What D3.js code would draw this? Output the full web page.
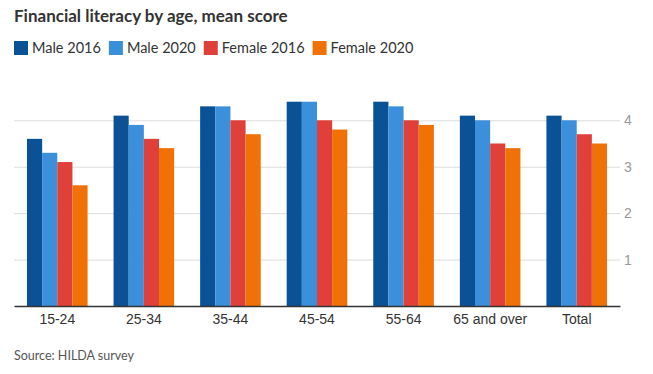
<!DOCTYPE html>
<html lang="en">
<head>
    <meta charset="UTF-8">
    <title>Financial literacy by age</title>
    <script src="https://d3js.org/d3.v7.min.js"></script>
    <style>
        body {
            margin: 0;
            background: #fff;
            font-family: Lato, "Noto Sans", sans-serif;
        }
        .grid line { stroke: #dcdcdc; stroke-width: 1; }
        .grid path { display: none; }
        .x-axis path { stroke: #333; stroke-width: 1.5; }
        .x-axis line { display: none; }
        .x-axis text { fill: #333; font-size: 14px; }
        .y-axis text { fill: #999; font-size: 14px; }
        .y-axis path, .y-axis line { display: none; }
    </style>
</head>
<body>
    <div id="chart"></div>

    <script>
        // values
        const ageGroups = ["15-24", "25-34", "35-44", "45-54", "55-64", "65 and over", "Total"];
        const seriesNames = ["Male 2016", "Male 2020", "Female 2016", "Female 2020"];
        const male2016 = [3.6, 4.1, 4.3, 4.4, 4.4, 4.1, 4.1];
        const male2020 = [3.3, 3.9, 4.3, 4.4, 4.3, 4.0, 4.0];
        const female2016 = [3.1, 3.6, 4.0, 4.0, 4.0, 3.5, 3.7];
        const female2020 = [2.6, 3.4, 3.7, 3.8, 3.9, 3.4, 3.5];
        const yTicks = [1, 2, 3, 4];
        const colors = ["#0a5196", "#3b8fdb", "#e0403a", "#f07105"];

        const seriesValues = [male2016, male2020, female2016, female2020];
        const data = ageGroups.map((g, i) => ({
            group: g,
            values: seriesNames.map((s, j) => ({ key: s, value: seriesValues[j][i] }))
        }));

        const W = 653, H = 374;
        const margin = { top: 98, right: 33, bottom: 68, left: 14 };
        const width = W - margin.left - margin.right;
        const height = H - margin.top - margin.bottom;

        const root = d3.select("#chart").append("svg")
            .attr("width", W)
            .attr("height", H);

        // title
        root.append("text")
            .attr("x", 14)
            .attr("y", 22)
            .attr("font-size", 17)
            .attr("font-weight", 700)
            .attr("fill", "#333")
            .text("Financial literacy by age, mean score");

        // legend
        const legend = root.append("g").attr("transform", "translate(14,41)");
        let lx = 0;
        seriesNames.forEach((s, i) => {
            const item = legend.append("g").attr("transform", `translate(${lx},0)`);
            item.append("rect").attr("width", 14).attr("height", 14).attr("fill", colors[i]);
            const t = item.append("text")
                .attr("x", 18)
                .attr("y", 12)
                .attr("font-size", 14.5)
                .attr("fill", "#333")
                .text(s);
            lx += 18 + t.node().getComputedTextLength() + 8;
        });

        const svg = root.append("g")
            .attr("transform", `translate(${margin.left},${margin.top})`);

        const x0 = d3.scaleBand()
            .domain(ageGroups)
            .range([0, width])
            .paddingInner(0.3)
            .paddingOuter(0.15);

        const x1 = d3.scaleBand()
            .domain(seriesNames)
            .range([0, x0.bandwidth()]);

        const y = d3.scaleLinear()
            .domain([0, 4.48])
            .range([height, 0]);

        // gridlines
        svg.append("g")
            .attr("class", "grid")
            .call(d3.axisLeft(y).tickValues(yTicks).tickSize(-width).tickFormat(""));

        // bars
        svg.selectAll(".group")
            .data(data)
            .enter()
            .append("g")
            .attr("class", "group")
            .attr("transform", d => `translate(${x0(d.group)},0)`)
            .selectAll("rect")
            .data(d => d.values)
            .enter()
            .append("rect")
            .attr("x", d => x1(d.key))
            .attr("width", x1.bandwidth())
            .attr("y", d => y(d.value))
            .attr("height", d => height - y(d.value))
            .attr("fill", (d, i) => colors[i]);

        // x axis
        svg.append("g")
            .attr("class", "x-axis")
            .attr("transform", `translate(0,${height})`)
            .call(d3.axisBottom(x0).tickSize(0).tickSizeOuter(0).tickPadding(8));

        // y axis labels on the right
        svg.append("g")
            .attr("class", "y-axis")
            .attr("transform", `translate(${width},0)`)
            .call(d3.axisRight(y).tickValues(yTicks).tickSize(0).tickPadding(4).tickFormat(d3.format("d")))
            .selectAll("text")
            .attr("dy", "0.32em");

        // source
        root.append("text")
            .attr("x", 14)
            .attr("y", 360)
            .attr("font-size", 12.5)
            .attr("fill", "#555")
            .text("Source: HILDA survey");
    </script>
</body>
</html>
